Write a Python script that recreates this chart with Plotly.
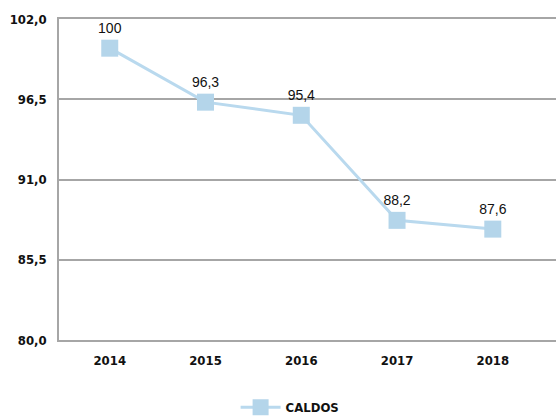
import plotly.graph_objects as go

years = ["2014", "2015", "2016", "2017", "2018"]
caldos = [100, 96.3, 95.4, 88.2, 87.6]
y_ticks = [80.0, 85.5, 91.0, 96.5, 102.0]

labels = [("%g" % v).replace(".", ",") for v in caldos]
bold_font = dict(family="DejaVu Sans Condensed", size=13, color="#111111", weight="bold")

fig = go.Figure()
fig.add_trace(go.Scatter(
    x=years, y=caldos, name="CALDOS", mode="lines+markers+text",
    line=dict(color="#b9d9ee", width=3),
    marker=dict(symbol="square", size=17, color="#b4d5ea"),
    text=labels, textposition="top center", cliponaxis=False,
    textfont=dict(family="Liberation Sans", size=14, color="#111111"),
))

fig.update_layout(
    width=556, height=418,
    margin=dict(l=59, r=0, t=19, b=78, autoexpand=False),
    paper_bgcolor="white", plot_bgcolor="white",
    separators=",.",
    showlegend=True,
    legend=dict(orientation="h", x=0.465, xanchor="center", y=-0.21, yanchor="middle",
                font=bold_font, itemwidth=40),
    xaxis=dict(type="category", range=[-0.53, 4.66], showgrid=False,
               showline=True, mirror=True, linecolor="#a6a6a6", linewidth=1.5,
               ticks="", tickfont=bold_font, ticklabelstandoff=8),
    yaxis=dict(range=[80, 102], tickvals=y_ticks, tickformat=".1f",
               showgrid=True, gridcolor="#a6a6a6", gridwidth=1.5,
               showline=True, linecolor="#a6a6a6", linewidth=1.5,
               zeroline=False, ticks="", ticklabelstandoff=8,
               tickfont=bold_font),
)
fig.write_html("out.html", config={"displayModeBar": False},
               post_script="document.body.style.margin='0';document.body.style.overflow='hidden';")
